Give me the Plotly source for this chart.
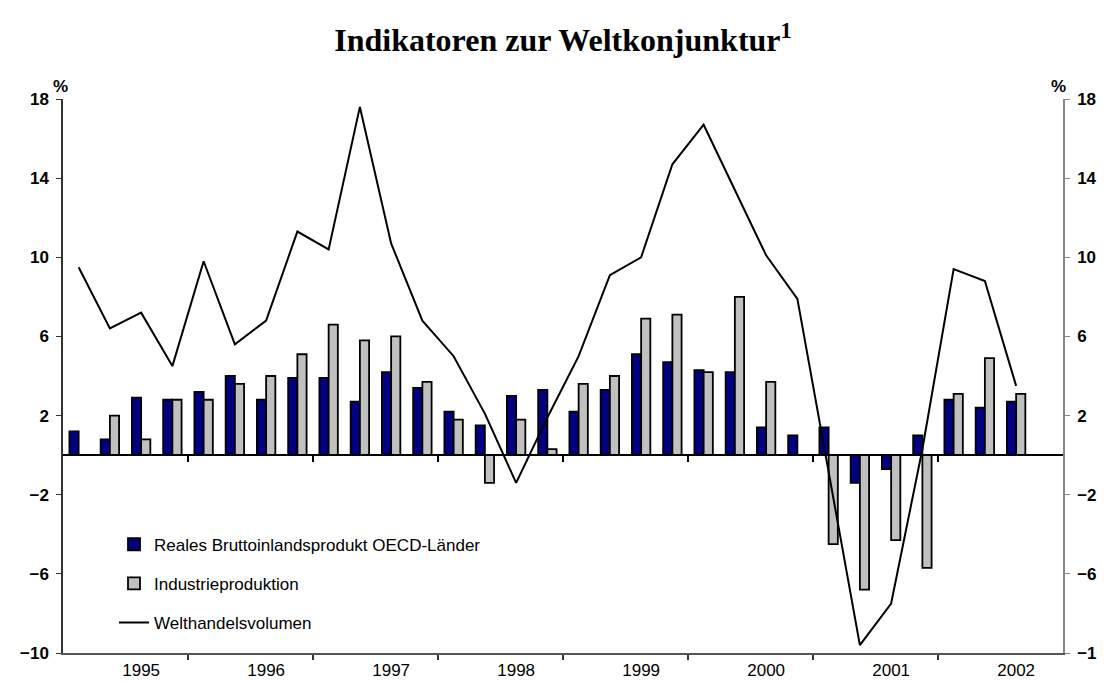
import plotly.graph_objects as go

# Quartalsdaten 1995 Q1 bis 2002 Q3, Veraenderung gg. Vorjahr in %
quarters = ["1995Q1", "1995Q2", "1995Q3", "1995Q4",
            "1996Q1", "1996Q2", "1996Q3", "1996Q4",
            "1997Q1", "1997Q2", "1997Q3", "1997Q4",
            "1998Q1", "1998Q2", "1998Q3", "1998Q4",
            "1999Q1", "1999Q2", "1999Q3", "1999Q4",
            "2000Q1", "2000Q2", "2000Q3", "2000Q4",
            "2001Q1", "2001Q2", "2001Q3", "2001Q4",
            "2002Q1", "2002Q2", "2002Q3"]

bip_oecd = [1.2, 0.8, 2.9, 2.8, 3.2, 4.0, 2.8, 3.9,
            3.9, 2.7, 4.2, 3.4, 2.2, 1.5, 3.0, 3.3,
            2.2, 3.3, 5.1, 4.7, 4.3, 4.2, 1.4, 1.0,
            1.4, -1.4, -0.7, 1.0, 2.8, 2.4, 2.7]

industrie = [None, 2.0, 0.8, 2.8, 2.8, 3.6, 4.0, 5.1,
             6.6, 5.8, 6.0, 3.7, 1.8, -1.4, 1.8, 0.3,
             3.6, 4.0, 6.9, 7.1, 4.2, 8.0, 3.7, None,
             -4.5, -6.8, -4.3, -5.7, 3.1, 4.9, 3.1]

welthandel = [9.5, 6.4, 7.2, 4.5, 9.8, 5.6, 6.8, 11.3,
              10.4, 17.6, 10.7, 6.8, 5.0, 2.1, -1.4, 1.9,
              5.0, 9.1, 10.0, 14.7, 16.7, 13.4, 10.1, 7.9,
              -0.8, -9.6, -7.5, 0.3, 9.4, 8.8, 3.5]

years = ["1995", "1996", "1997", "1998", "1999", "2000", "2001", "2002"]
y_ticks = [-10, -6, -2, 2, 6, 10, 14, 18]

xs = list(range(len(quarters)))
n_slots = 4 * len(years)
x_range = [-0.5, n_slots - 0.5]
year_pos = [4 * i + 2 for i in range(len(years))]          # Beschriftung im 3. Quartal
year_bounds = [4 * i - 0.5 for i in range(1, len(years))]  # Jahresgrenzen

fig = go.Figure()

fig.add_trace(go.Bar(x=xs, y=bip_oecd, name="Reales Bruttoinlandsprodukt OECD-Länder",
                     marker=dict(color="#000080", line=dict(color="black", width=1.8)),
                     legendgroup="a"))
fig.add_trace(go.Bar(x=xs, y=industrie, name="Industrieproduktion",
                     marker=dict(color="#C0C0C0", line=dict(color="black", width=1.8)),
                     legendgroup="b"))
fig.add_trace(go.Scatter(x=xs, y=welthandel, name="Welthandelsvolumen", mode="lines",
                         line=dict(color="black", width=2), xaxis="x2", yaxis="y2",
                         legendgroup="c"))

tick_font = dict(family="Arial, Liberation Sans", size=17, color="black", weight="bold")

fig.update_layout(
    width=1105, height=683, autosize=False,
    margin=dict(l=55, r=50, t=91, b=38),
    paper_bgcolor="white", plot_bgcolor="white",
    barmode="group", bargap=0.41, bargroupgap=0,
    title=dict(text="<b>Indikatoren zur Weltkonjunktur<sup>1</sup></b>",
               font=dict(family="Liberation Serif, Times New Roman", size=32, color="black"),
               x=0.5, xref="paper", xanchor="center",
               y=1 - 32 / 683, yref="container", yanchor="middle"),
    xaxis=dict(range=x_range, tickvals=year_pos, ticktext=years, ticks="",
               showline=True, linecolor="#555555", linewidth=1.5,
               showgrid=False, zeroline=False, automargin=False,
               tickfont=dict(family="Arial, Liberation Sans", size=17, color="black"),
               ticklabelstandoff=1,
               minor=dict(tickvals=year_bounds, ticks="outside", ticklen=5,
                          tickcolor="#333333", tickwidth=1.5, showgrid=False)),
    xaxis2=dict(range=x_range, overlaying="x", anchor="free", position=10 / 28,
                showline=True, linecolor="black", linewidth=1.5,
                tickvals=year_bounds, ticks="outside", ticklen=6, tickcolor="black",
                tickwidth=1.5, showticklabels=False, showgrid=False, zeroline=False),
    yaxis=dict(range=[-10, 18], tickvals=y_ticks, ticks="outside", ticklen=5,
               showline=True, linecolor="#333333", linewidth=1.5, tickcolor="#333333",
               showgrid=False, zeroline=False, automargin=False,
               tickfont=tick_font, ticklabelstandoff=4),
    yaxis2=dict(range=[-10, 18], tickvals=y_ticks, overlaying="y", side="right", anchor="x",
                ticks="outside", ticklen=5, showline=True, linecolor="#888888",
                linewidth=1.5, tickcolor="#888888", showgrid=False, zeroline=False,
                automargin=False, tickfont=tick_font, ticklabelstandoff=4),
    legend=dict(x=0.051, y=0.228, xanchor="left", yanchor="top",
                bgcolor="rgba(0,0,0,0)", traceorder="grouped", tracegroupgap=14,
                font=dict(family="Arial, Liberation Sans", size=17, color="black")),
    showlegend=True,
)

# Prozentzeichen ueber den Achsen
for xp in [-0.003, 0.995]:
    fig.add_annotation(text="<b>%</b>", x=xp, y=1, xref="paper", yref="paper",
                       xanchor="center", yanchor="middle", yshift=13, showarrow=False,
                       bgcolor="white",
                       font=dict(family="Arial, Liberation Sans", size=17, color="black"))

fig.write_html("out.html")
